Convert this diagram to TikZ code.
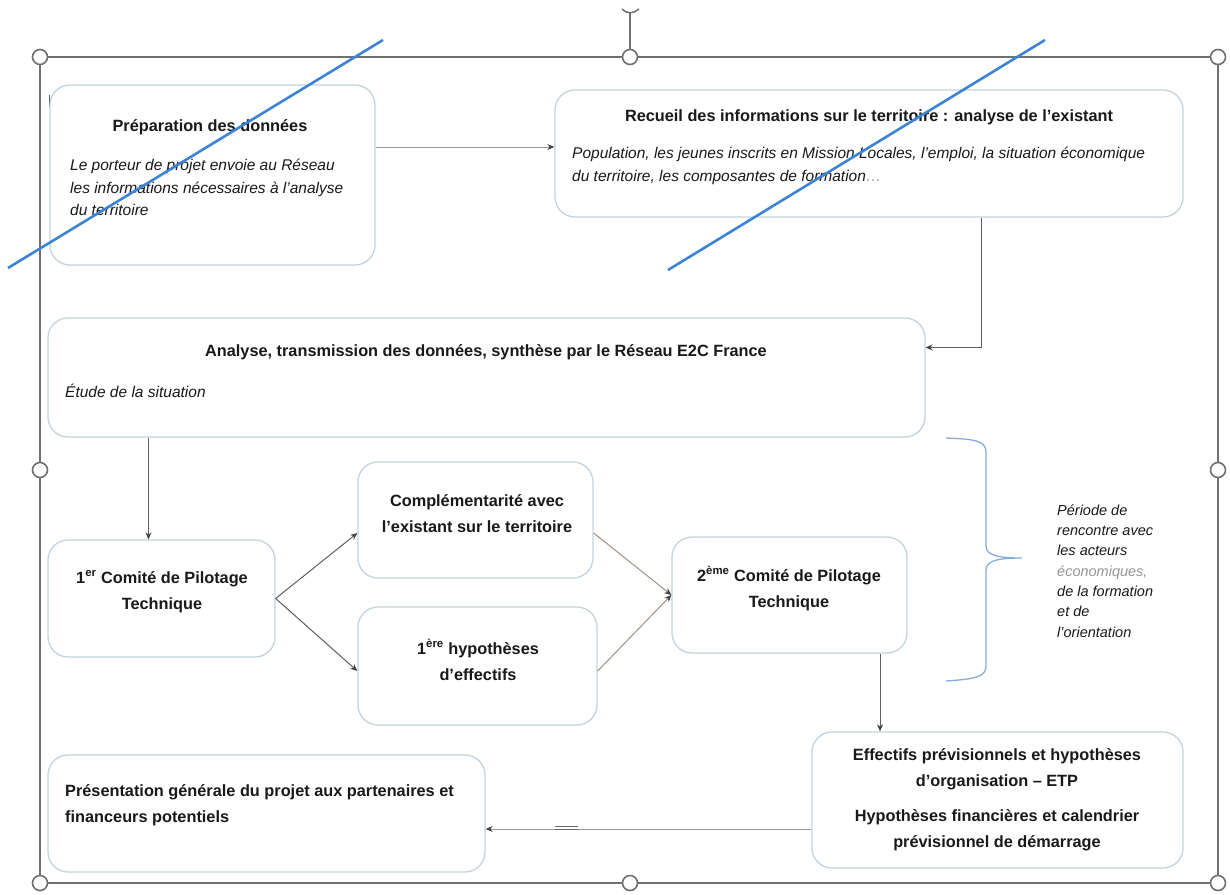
\documentclass[tikz,border=0pt]{standalone}
\usepackage{fontspec}
\setmainfont{Liberation Sans}
\usetikzlibrary{arrows.meta}
\definecolor{boxc}{RGB}{196,212,222}
\definecolor{framec}{RGB}{112,112,112}
\definecolor{linec}{RGB}{95,95,95}
\definecolor{lightc}{RGB}{150,150,150}
\definecolor{bluec}{RGB}{62,132,212}
\definecolor{bracec}{RGB}{135,172,222}
\definecolor{txt}{RGB}{25,25,25}
\tikzset{
  box/.style={draw=boxc, line width=1.3pt, rounded corners=20pt, inner sep=0pt},
  ttl/.style={text=txt, font=\fontsize{16.3}{26}\selectfont\bfseries, align=center, inner sep=0pt},
  ttll/.style={text=txt, font=\fontsize{16.3}{26}\selectfont\bfseries, align=left, inner sep=0pt},
  body/.style={text=txt, font=\fontsize{15.5}{22.5}\selectfont\itshape, align=left, inner sep=0pt},
  conn/.style={draw=linec, line width=1pt, -{Stealth[length=7pt,width=6pt,color=linec!70!black]}},
  handle/.style={circle, draw=framec, fill=white, line width=1.6pt, minimum size=15pt, inner sep=0pt},
  slash/.style={draw=bluec, line width=2.6pt},
}
\begin{document}
\begin{tikzpicture}[x=1pt,y=-1pt]
\useasboundingbox (0,0) rectangle (1230,894);
\fill[white] (0,0) rectangle (1230,894);
% selection frame
\draw[framec, line width=1.5pt] (40,57) rectangle (1218,883);
\draw[framec, line width=1.5pt] (630,13) -- (630,50);
\draw[framec, line width=1.5pt] (622,9) .. controls (626,14) and (634,14) .. (639,9);
\draw[framec!80!black, line width=1pt] (49,95) -- (49,107);
% boxes
\node[box, minimum width=325pt, minimum height=180pt] (b1) at (212.5,175) {};
\node[box, minimum width=628pt, minimum height=127pt] (b2) at (869,153.5) {};
\node[box, minimum width=877pt, minimum height=119pt] (b3) at (486.5,377.5) {};
\node[box, minimum width=227pt, minimum height=117pt] (b4) at (161.5,598.5) {};
\node[box, minimum width=235pt, minimum height=116pt] (b5) at (475.5,520) {};
\node[box, minimum width=239pt, minimum height=118pt] (b6) at (477.5,666) {};
\node[box, minimum width=235pt, minimum height=116pt] (b7) at (789.5,595) {};
\node[box, minimum width=371pt, minimum height=136pt] (b8) at (997.5,800) {};
\node[box, minimum width=437pt, minimum height=117pt] (b9) at (266.5,813.5) {};
% texts
\node[ttl] (t1) at (210,127) {Préparation des données};
\node[body, anchor=west] (t1b) at (70,187.5) {Le porteur de projet envoie au Réseau\\les informations nécessaires à l'analyse\\du territoire};
\node[ttl] (t2) at (869,117) {Recueil des informations sur le territoire : analyse de l'existant};
\node[body, anchor=west] (t2b) at (572,166) {Population, les jeunes inscrits en Mission Locales, l'emploi, la situation économique\\du territoire, les composantes de formation\textcolor{lightc}{…}};
\node[ttl] (t3) at (486,352) {Analyse, transmission des données, synthèse par le Réseau E2C France};
\node[body, anchor=west] (t3b) at (65,391) {Étude de la situation};
\node[ttl] (t4) at (162,591.5) {1\textsuperscript{er} Comité de Pilotage\\Technique};
\node[ttl] (t5) at (477,513.5) {Complémentarité avec\\l'existant sur le territoire};
\node[ttl] (t6) at (478,660) {1\textsuperscript{ère} hypothèses\\d'effectifs};
\node[ttl] (t7) at (789,588.5) {2\textsuperscript{ème} Comité de Pilotage\\Technique};
\node[ttl] (t8) at (997,769) {Effectifs prévisionnels et hypothèses\\d'organisation – ETP};
\node[ttl] (t8b) at (997,830.5) {Hypothèses financières et calendrier\\prévisionnel de démarrage};
\node[ttll, anchor=west] (t9) at (65,805) {Présentation générale du projet aux partenaires et\\financeurs potentiels};
% brace
\draw[bracec, line width=1.3pt] (946,438) .. controls (975,439) and (986,441) .. (986,452)
  -- (986,546) .. controls (986,556) and (1000,558) .. (1022,558)
  .. controls (1000,558) and (986,560) .. (986,570)
  -- (986,666) .. controls (986,677) and (975,679) .. (946,681);
\node[text=txt, font=\fontsize{14.5}{20.3}\selectfont\itshape, align=left, inner sep=0pt, anchor=west] (tb) at (1057,571)
  {Période de\\rencontre avec\\les acteurs\\\textcolor{lightc}{économiques,}\\de la formation\\et de\\l'orientation};
% connectors
\draw[conn, draw=lightc] ([yshift=28pt]b1.east) -- ([yshift=6.5pt]b2.west);
\draw[conn] ([xshift=112pt]b2.south) |- ([yshift=30pt]b3.east);
\draw[conn] ([xshift=-13pt]b4.north |- b3.south) -- ([xshift=-13pt]b4.north);
\draw[conn] (b4.east) -- ([yshift=-13pt]b5.west);
\draw[conn] (b4.east) -- ([yshift=-5pt]b6.west);
\draw[conn, draw=lightc!80!brown] ([yshift=-13pt]b5.east) -- (b7.west);
\draw[conn, draw=lightc!80!brown] ([yshift=-5pt]b6.east) -- (b7.west);
\draw[conn] ([xshift=90.5pt]b7.south) -- ([xshift=90.5pt]b7.south |- b8.north);
\draw[conn, draw=lightc] ([yshift=-29pt]b8.west) -- ([yshift=-15.5pt]b9.east);
\draw[lightc!70!black, line width=0.8pt] (555,826) -- (578,826) (555,829.5) -- (578,829.5);
% blue strike lines
\draw[slash] (8,268) -- (383,40);
\draw[slash] (668,270) -- (1045,40);
% handles
\node[handle] (h1) at (40,57) {};
\node[handle] (h2) at (630,57) {};
\node[handle] (h3) at (1218,57) {};
\node[handle] (h4) at (40,470) {};
\node[handle] (h5) at (1218,470) {};
\node[handle] (h6) at (40,883) {};
\node[handle] (h7) at (630,883) {};
\node[handle] (h8) at (1218,883) {};
\end{tikzpicture}
\end{document}
